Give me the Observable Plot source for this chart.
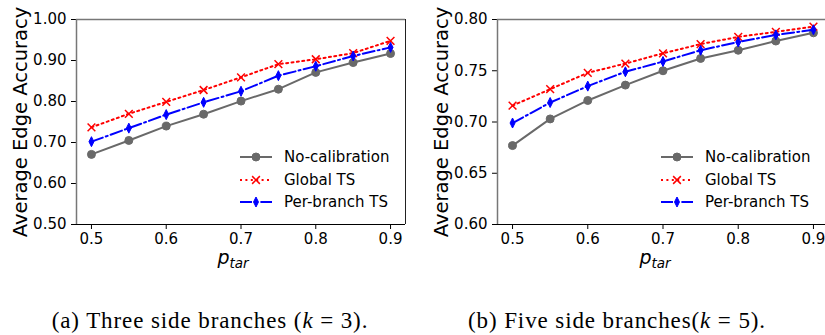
<!DOCTYPE html>
<html><head><meta charset="utf-8">
<script src="https://cdn.jsdelivr.net/npm/d3@7"></script>
<script src="https://cdn.jsdelivr.net/npm/@observablehq/plot@0.6"></script>
<style>
html,body{margin:0;padding:0;background:#fff;}
#fig{position:relative;width:825px;height:335px;overflow:hidden;background:#fff;font-family:"DejaVu Sans",sans-serif;color:#000;}
.panel{position:absolute;top:0;}
.ylab{position:absolute;width:260px;height:22px;line-height:22px;text-align:center;font-size:19.5px;white-space:nowrap;transform:rotate(-90deg);transform-origin:50% 50%;}
.xlab{position:absolute;width:100px;text-align:center;font-size:19px;line-height:22px;font-family:"DejaVu Sans",sans-serif;}
.xlab i{font-style:oblique;}
.xlab sub{font-size:13.5px;line-height:0;vertical-align:-4px;}
.legend{position:absolute;font-size:15px;}
.legend .row{display:flex;align-items:center;height:22.5px;}
.legend svg{margin-right:12px;}
.cap{position:absolute;top:308px;width:420px;text-align:center;font-family:"Liberation Serif","DejaVu Serif",serif;font-size:23px;letter-spacing:0.9px;white-space:nowrap;}
</style>
</head><body>
<div id="fig"></div>
<script>
// ---- data ----
const pTar = [0.5, 0.55, 0.6, 0.65, 0.7, 0.75, 0.8, 0.85, 0.9];
const seriesNames = ["No-calibration", "Global TS", "Per-branch TS"];
const k3NoCal      = [0.671, 0.705, 0.740, 0.769, 0.801, 0.830, 0.871, 0.895, 0.917];
const k3Global     = [0.737, 0.770, 0.799, 0.828, 0.859, 0.891, 0.903, 0.918, 0.948];
const k3PerBranch  = [0.702, 0.735, 0.768, 0.798, 0.825, 0.863, 0.886, 0.911, 0.932];
const k5NoCal      = [0.677, 0.703, 0.721, 0.736, 0.750, 0.762, 0.770, 0.779, 0.787];
const k5Global     = [0.716, 0.732, 0.748, 0.757, 0.767, 0.776, 0.783, 0.788, 0.793];
const k5PerBranch  = [0.699, 0.719, 0.735, 0.749, 0.759, 0.770, 0.778, 0.785, 0.790];
const xTicks   = [0.5, 0.6, 0.7, 0.8, 0.9];
const k3YTicks = [0.5, 0.6, 0.7, 0.8, 0.9, 1.0];
const k5YTicks = [0.6, 0.65, 0.7, 0.75, 0.8];
const xDomain  = [0.48, 0.92];
const k3YDomain = [0.5, 1.0];
const k5YDomain = [0.6, 0.8];
const captions = ["(a) Three side branches (<i>k</i> = 3).", "(b) Five side branches(<i>k</i> = 5)."];

// ---- styles ----
const thinDiamond = {
  draw(ctx, size) {
    const r = Math.sqrt(size / Math.PI);
    const h = r * 1.25, w = r * 0.62;
    ctx.moveTo(0, -h); ctx.lineTo(w, 0); ctx.lineTo(0, h); ctx.lineTo(-w, 0); ctx.closePath();
  }
};
const styles = [
  {color: "#696969", dash: null, symbol: "circle", fill: "#696969", stroke: "#696969", r: 4},
  {color: "#ff0000", dash: "2,3.4", symbol: "times", fill: "none", stroke: "#ff0000", r: 3.6},
  {color: "#0000ff", dash: "12,3.2,2,3.2", symbol: thinDiamond, fill: "#0000ff", stroke: "#0000ff", r: 4}
];

function table(vals) { return pTar.map((p, i) => ({p, v: vals[i]})); }

function panel(series, yDomain, yTicks, yFmt, marginLeft, marginRight, width) {
  const marks = [];
  series.forEach((vals, i) => {
    const s = styles[i];
    const d = table(vals);
    marks.push(Plot.line(d, {x: "p", y: "v", stroke: s.color, strokeWidth: 2, strokeDasharray: s.dash || undefined}));
    marks.push(Plot.dot(d, {x: "p", y: "v", symbol: s.symbol, r: s.r, fill: s.fill, stroke: s.stroke, strokeWidth: s.symbol === "times" ? 1.5 : 1}));
  });
  return Plot.plot({
    width, height: 256,
    marginLeft, marginRight, marginTop: 19, marginBottom: 32,
    style: {fontFamily: "DejaVu Sans, sans-serif", fontSize: "15px", color: "#000", background: "transparent", overflow: "visible"},
    x: {domain: xDomain},
    y: {domain: yDomain},
    marks: [
      Plot.axisX({ticks: xTicks, tickFormat: d3.format(".1f"), tickSize: 5, tickPadding: 4, fontSize: 15, label: null}),
      Plot.axisY({ticks: yTicks, tickFormat: d3.format(yFmt), tickSize: 5, tickPadding: 5, fontSize: 15, label: null}),
      ...marks,
      Plot.ruleX([xDomain[0]], {stroke: "#777", strokeWidth: 1.5}),
      Plot.ruleY([yDomain[1]], {stroke: "#777", strokeWidth: 1.5}),
      Plot.ruleX([xDomain[1]], {stroke: "#222", strokeWidth: 1}),
      Plot.ruleY([yDomain[0]], {stroke: "#000", strokeWidth: 1.2})
    ]
  });
}

const fig = document.getElementById("fig");

function addPanel(plot, left) {
  plot.classList.add("panel");
  plot.style.left = left + "px";
  fig.appendChild(plot);
}

addPanel(panel([k3NoCal, k3Global, k3PerBranch], k3YDomain, k3YTicks, ".2f", 76, 5, 410), 0);
addPanel(panel([k5NoCal, k5Global, k5PerBranch], k5YDomain, k5YTicks, ".2f", 77, 12, 420), 420);

function addYLabel(cx) {
  const d = document.createElement("div");
  d.className = "ylab";
  d.textContent = "Average Edge Accuracy";
  d.style.left = (cx - 130) + "px";
  d.style.top = (122 - 11) + "px";
  fig.appendChild(d);
}
addYLabel(21); addYLabel(442);

function addXLabel(cx) {
  const d = document.createElement("div");
  d.className = "xlab";
  d.innerHTML = "<i>p</i><sub><i>tar</i></sub>";
  d.style.left = (cx - 50) + "px";
  d.style.top = "246px";
  fig.appendChild(d);
}
addXLabel(233); addXLabel(655);

function swatch(i) {
  const s = styles[i];
  const svg = d3.create("svg").attr("width", 32).attr("height", 16);
  svg.append("line").attr("x1", 0).attr("x2", 32).attr("y1", 8).attr("y2", 8)
    .attr("stroke", s.color).attr("stroke-width", 2).attr("stroke-dasharray", s.dash);
  const sym = typeof s.symbol === "string" ? (s.symbol === "circle" ? d3.symbolCircle : d3.symbolTimes) : s.symbol;
  svg.append("path").attr("transform", "translate(16,8)")
    .attr("d", d3.symbol(sym, Math.PI * s.r * s.r)())
    .attr("fill", s.fill).attr("stroke", s.stroke).attr("stroke-width", s.symbol === "times" ? 1.5 : 1);
  return svg.node();
}
function addLegend(left, top) {
  const lg = document.createElement("div");
  lg.className = "legend";
  lg.style.left = left + "px";
  lg.style.top = top + "px";
  seriesNames.forEach((n, i) => {
    const row = document.createElement("div");
    row.className = "row";
    row.appendChild(swatch(i));
    const t = document.createElement("span");
    t.textContent = n;
    row.appendChild(t);
    lg.appendChild(row);
  });
  fig.appendChild(lg);
}
addLegend(240, 146);
addLegend(661, 146);

[[210, 0], [617, 1]].forEach(([cx, i]) => {
  const c = document.createElement("div");
  c.className = "cap";
  c.innerHTML = captions[i];
  c.style.left = (cx - 210) + "px";
  fig.appendChild(c);
});
</script>
</body></html>
